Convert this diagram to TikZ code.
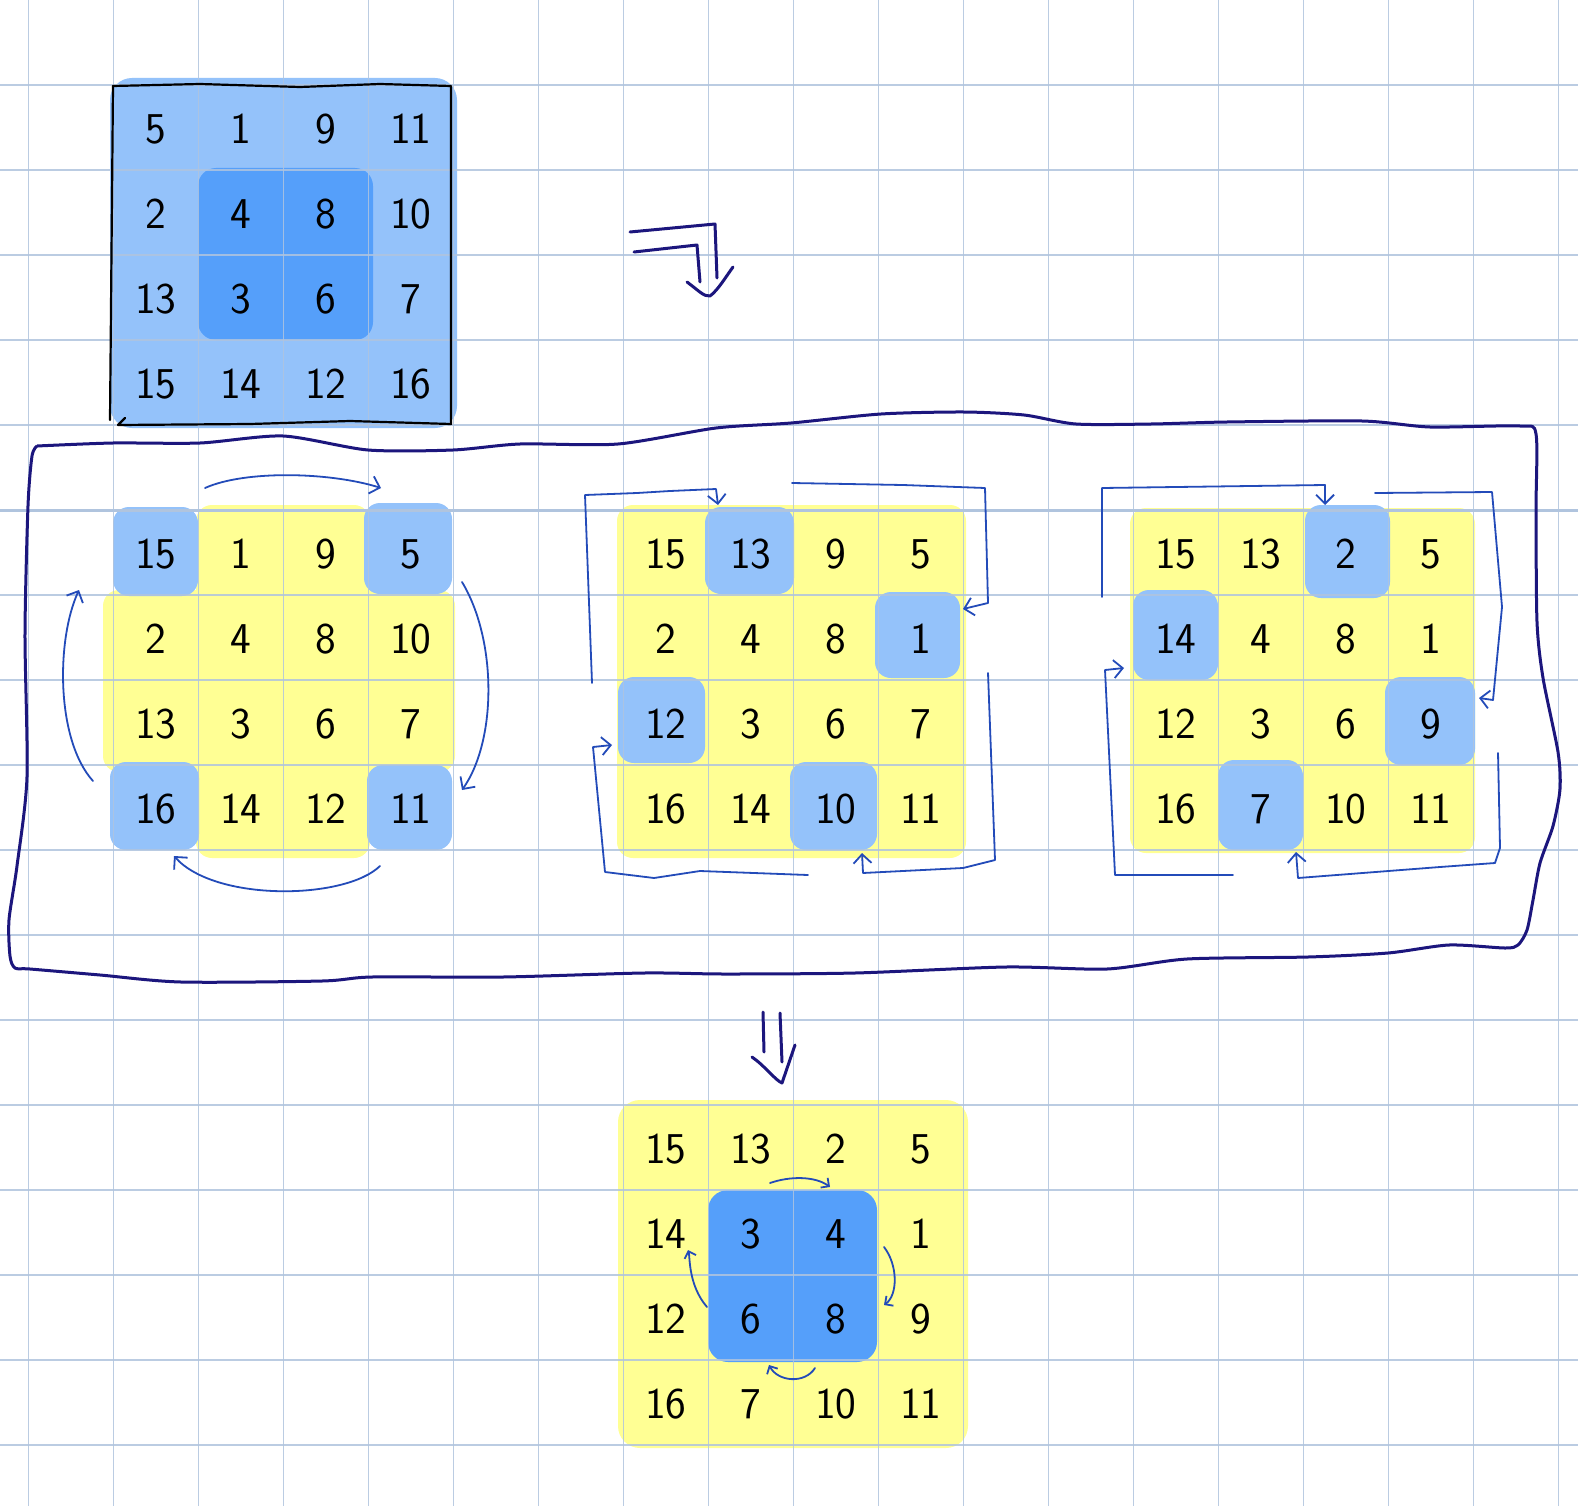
\documentclass[tikz,border=0pt]{standalone}
\usetikzlibrary{arrows.meta}
\definecolor{gridc}{RGB}{176,196,222}
\definecolor{lblue}{RGB}{148,194,250}
\definecolor{dblue}{RGB}{85,159,250}
\definecolor{yell}{RGB}{255,255,148}
\definecolor{arrc}{RGB}{35,75,185}
\definecolor{navy}{RGB}{28,22,125}
\newcommand\mypanel[4]{%
  \foreach \v [count=\i from 0] in {#4} {%
    \pgfmathtruncatemacro\prow{\i/4}%
    \pgfmathtruncatemacro\pcol{\i-4*\prow}%
    \node[num] (#1-\prow-\pcol) at ({#2+42.5+85*\pcol},{#3+44+85*\prow}) {\v};
  }}
\begin{document}
\begin{tikzpicture}[x=1pt,y=-1pt,
  num/.style={font=\sffamily\fontsize{44}{48}\selectfont, inner sep=0pt, text=black},
  gline/.style={draw=gridc, line width=1.6pt, opacity=0.85},
  hl/.style={rounded corners=16pt},
  rot/.style={draw=arrc, line width=1.8pt, line cap=round, line join=round,
    -{Straight Barb[length=9pt,width=18pt]}},
  rotsm/.style={rot, -{Straight Barb[length=6pt,width=12pt]}},
  big/.style={draw=navy, line width=3pt, line cap=round, line join=round},
]
\useasboundingbox (0,0) rectangle (1578,1506);
\fill[white] (0,0) rectangle (1578,1506);

% ---------- highlight fills ----------
% top matrix
\fill[lblue, rounded corners=22pt] (110,78) rectangle (457,428);
\fill[dblue, rounded corners=18pt] (198,168) rectangle (373,340);
% panel 1
\fill[yell, hl] (196,505) rectangle (370,858);
\fill[yell, hl] (103,590) rectangle (455,772);
\fill[lblue, hl] (113,507) rectangle (198,596);
\fill[lblue, hl] (364,503) rectangle (452,594);
\fill[lblue, hl] (110,762) rectangle (199,850);
\fill[lblue, hl] (367,765) rectangle (452,850);
% panel 2
\fill[yell, hl] (617,505) rectangle (966,858);
\fill[lblue, hl] (705,507) rectangle (794,594);
\fill[lblue, hl] (875,592) rectangle (960,678);
\fill[lblue, hl] (618,677) rectangle (705,763);
\fill[lblue, hl] (790,762) rectangle (877,850);
% panel 3
\fill[yell, hl] (1130,508) rectangle (1475,853);
\fill[lblue, hl] (1305,505) rectangle (1390,598);
\fill[lblue, hl] (1133,590) rectangle (1218,680);
\fill[lblue, hl] (1385,677) rectangle (1475,765);
\fill[lblue, hl] (1218,760) rectangle (1303,850);
% final
\fill[yell, rounded corners=22pt] (618,1100) rectangle (968,1448);
\fill[dblue, rounded corners=20pt] (708,1190) rectangle (877,1362);

% ---------- grid paper ----------
\foreach \k in {0,...,18} \draw[gline] ({28.3+85*\k},0) -- ({28.3+85*\k},1506);
\foreach \k in {1,...,17} \draw[gline] (0,{85*\k}) -- (1578,{85*\k});
\draw[gridc, line width=3pt] (0,510) -- (1578,510);

% ---------- numbers ----------
\mypanel{A}{113.3}{85}{5,1,9,11,2,4,8,10,13,3,6,7,15,14,12,16}
\mypanel{B}{113.3}{510}{15,1,9,5,2,4,8,10,13,3,6,7,16,14,12,11}
\mypanel{C}{623.3}{510}{15,13,9,5,2,4,8,1,12,3,6,7,16,14,10,11}
\mypanel{D}{1133.3}{510}{15,13,2,5,14,4,8,1,12,3,6,9,16,7,10,11}
\mypanel{E}{623.3}{1105}{15,13,2,5,14,3,4,1,12,6,8,9,16,7,10,11}

% ---------- black outline of the top matrix ----------
\draw[line width=2.2pt, line join=round, line cap=round]
  (113,86) -- (200,84) -- (300,87) -- (380,84) -- (451,86) -- (451,424)
  -- (350,421) -- (250,424) -- (118,425) -- (125,418);
\draw[line width=2.2pt, line cap=round] (113,86) -- (110,420);

% ---------- bent double arrow ----------
\draw[big] (630,232) -- (715,224) -- (717,278);
\draw[big] (634,252) -- (697,245) -- (700,282);
\draw[big] (687,282) .. controls (698,290) and (704,297) .. (710,296)
  .. controls (718,290) and (725,278) .. (733,267);

% ---------- big frame ----------
\draw[draw=navy, line width=3pt, line join=round]
  plot[smooth, tension=0.45] coordinates {
  (37,446) (113,443) (200,443) (283,436) (368,450) (453,450) (520,444)
  (618,444) (716,428) (791,423) (881,414) (964,412) (1024,415) (1076,424)
  (1151,424) (1227,422) (1362,421) (1430,427) (1520,426) (1536,434)
  (1536,511) (1537,622) (1543,678) (1558,752) (1560,789) (1553,826)
  (1540,863) (1533,900) (1527,930) (1518,945) (1505,948) (1449,945)
  (1388,953) (1308,957) (1187,959) (1107,969) (1006,967) (855,973)
  (725,974) (644,973) (503,977) (372,977) (322,981) (181,982) (100,975)
  (30,969) (15,968) (10,956) (9,920) (17,866) (27,777) (25,634) (28,506)
  (32,456) (37,446)};

% ---------- panel 1 rotation arrows ----------
\coordinate (p1a) at (205,488); \coordinate (p1b) at (381,488);
\coordinate (p1c) at (462,582); \coordinate (p1d) at (462,790);
\coordinate (p1e) at (380,866); \coordinate (p1f) at (174,856);
\coordinate (p1g) at (93,781);  \coordinate (p1h) at (79,590);
\draw[rot] (p1a) .. controls (245,470) and (330,472) .. (p1b);
\draw[rot] (p1c) .. controls (497,640) and (497,740) .. (p1d);
\draw[rot] (p1e) .. controls (345,900) and (215,902) .. (p1f);
\draw[rot] (p1g) .. controls (56,740) and (56,640) .. (p1h);

% ---------- panel 2 arrows ----------
\coordinate (p2a) at (592,683); \coordinate (p2b) at (718,505);
\coordinate (p2c) at (792,483); \coordinate (p2d) at (963,609);
\coordinate (p2e) at (988,673); \coordinate (p2f) at (862,853);
\coordinate (p2g) at (808,875); \coordinate (p2h) at (612,745);
\draw[rot] (p2a) -- (585,495) -- (637,493) -- (670,491) -- (716,489) -- (p2b);
\draw[rot] (p2c) -- (903,485) -- (985,488) -- (988,603) -- (p2d);
\draw[rot] (p2e) -- (995,860) -- (963,868) -- (863,873) -- (p2f);
\draw[rot] (p2g) -- (700,871) -- (654,878) -- (605,872) -- (593,747) -- (p2h);

% ---------- panel 3 arrows ----------
\coordinate (p3a) at (1102,597); \coordinate (p3b) at (1325,505);
\coordinate (p3c) at (1375,493); \coordinate (p3d) at (1479,698);
\coordinate (p3e) at (1498,753); \coordinate (p3f) at (1296,852);
\coordinate (p3g) at (1233,875); \coordinate (p3h) at (1124,668);
\draw[rot] (p3a) -- (1102,488) -- (1325,485) -- (p3b);
\draw[rot] (p3c) -- (1492,492) -- (1502,607) -- (1493,700) -- (p3d);
\draw[rot] (p3e) -- (1500,848) -- (1495,863) -- (1440,867) -- (1298,878) -- (p3f);
\draw[rot] (p3g) -- (1115,875) -- (1105,670) -- (p3h);

% ---------- final small rotation arrows ----------
\coordinate (p4a) at (770,1183); \coordinate (p4b) at (830,1187);
\coordinate (p4c) at (884,1247); \coordinate (p4d) at (884,1305);
\coordinate (p4e) at (815,1368); \coordinate (p4f) at (769,1365);
\coordinate (p4g) at (707,1307); \coordinate (p4h) at (688,1250);
\draw[rotsm] (p4a) .. controls (790,1176) and (815,1176) .. (p4b);
\draw[rotsm] (p4c) .. controls (898,1265) and (898,1295) .. (p4d);
\draw[rotsm] (p4e) .. controls (805,1384) and (778,1382) .. (p4f);
\draw[rotsm] (p4g) .. controls (688,1285) and (690,1256) .. (p4h);

% ---------- down double arrow ----------
\draw[big] (763,1012) -- (764,1052);
\draw[big] (780,1013) -- (782,1062);
\draw[big] (752,1057) .. controls (765,1066) and (775,1080) .. (782,1083) -- (795,1045);
\end{tikzpicture}
\end{document}
